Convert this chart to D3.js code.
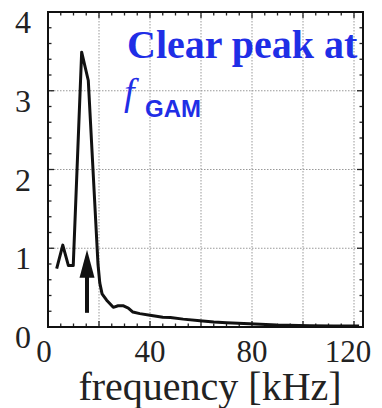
<!DOCTYPE html>
<html>
<head>
<meta charset="utf-8">
<script src="https://cdn.jsdelivr.net/npm/d3@7"></script>
<style>
  body { margin: 0; background: #fff; }
  .serif { font-family: 'Liberation Serif', 'Times New Roman', 'DejaVu Serif', serif; }
  .sans { font-family: 'Liberation Sans', Arial, 'DejaVu Sans', sans-serif; }
</style>
</head>
<body>
<div id="chart"></div>
<script>
// spectrum
let freq = [3.4, 5.8, 8, 9.9, 13.2, 15.8, 19.6, 20.3, 21.2, 23, 25.6, 27.5, 29.4, 31.5, 33.3, 36, 40, 45, 48, 53, 59.6, 65, 70, 79, 89.7, 102.7, 112, 122];
let amp  = [0.74, 1.04, 0.78, 0.78, 3.49, 3.13, 0.8, 0.56, 0.42, 0.34, 0.25, 0.27, 0.27, 0.24, 0.19, 0.17, 0.15, 0.125, 0.12, 0.1, 0.08, 0.065, 0.055, 0.04, 0.025, 0.017, 0.014, 0.012];

let xTicks = [0, 40, 80, 120];
let yTicks = [0, 1, 2, 3, 4];
let xGrid = [20, 40, 60, 80, 100, 120];
let yGrid = [1, 2, 3];

// arrow marking f_GAM: [freq, tail amp, tip amp]
let arrowAt = [15.3, 0.18, 0.98];

let w = 382, h = 408;
let pLeft = 48, pRight = 363, pTop = 12, pBottom = 327;

let svg = d3.select('#chart')
  .append('svg')
  .attr('width', w)
  .attr('height', h);

let xScale = d3.scaleLinear()
  .domain([0, 120])
  .range([pLeft, pLeft + 120 * 2.55]);

let yScale = d3.scaleLinear()
  .domain([0, 4])
  .range([pBottom, pTop]);

// grid
svg.selectAll('line.gx')
  .data(xGrid)
  .enter()
  .append('line')
  .attr('class', 'gx')
  .attr('x1', function(d) { return xScale(d); })
  .attr('x2', function(d) { return xScale(d); })
  .attr('y1', pTop)
  .attr('y2', pBottom)
  .attr('stroke', '#999')
  .attr('stroke-width', 1)
  .attr('stroke-dasharray', '1.5,1.5');

svg.selectAll('line.gy')
  .data(yGrid)
  .enter()
  .append('line')
  .attr('class', 'gy')
  .attr('x1', pLeft)
  .attr('x2', pRight)
  .attr('y1', function(d) { return yScale(d); })
  .attr('y2', function(d) { return yScale(d); })
  .attr('stroke', '#999')
  .attr('stroke-width', 1)
  .attr('stroke-dasharray', '1.5,1.5');

// inward ticks on all four sides
let xMinor = d3.range(0, 124, 5);
let yMinor = d3.range(0, 4.01, 0.2);

function tickLen(v, step) { return Math.abs(v / step - Math.round(v / step)) < 1e-6 ? 6 : 3.5; }

let ticks = svg.append('g')
  .attr('stroke', '#222')
  .attr('stroke-width', 1.3);

xMinor.forEach(function(d) {
  let l = tickLen(d, 20);
  ticks.append('line').attr('x1', xScale(d)).attr('x2', xScale(d)).attr('y1', pBottom).attr('y2', pBottom - l);
  ticks.append('line').attr('x1', xScale(d)).attr('x2', xScale(d)).attr('y1', pTop).attr('y2', pTop + l);
});
yMinor.forEach(function(d) {
  let l = tickLen(d, 1);
  ticks.append('line').attr('x1', pLeft).attr('x2', pLeft + l).attr('y1', yScale(d)).attr('y2', yScale(d));
  ticks.append('line').attr('x1', pRight).attr('x2', pRight - l).attr('y1', yScale(d)).attr('y2', yScale(d));
});

// frame
svg.append('rect')
  .attr('x', pLeft)
  .attr('y', pTop)
  .attr('width', pRight - pLeft)
  .attr('height', pBottom - pTop)
  .attr('fill', 'none')
  .attr('stroke', '#111')
  .attr('stroke-width', 2);

// curve
let line = d3.line()
  .x(function(d, i) { return xScale(freq[i]); })
  .y(function(d) { return yScale(d); });

svg.append('path')
  .datum(amp)
  .attr('d', line)
  .attr('fill', 'none')
  .attr('stroke', '#111')
  .attr('stroke-width', 3)
  .attr('stroke-linejoin', 'round');

// arrow
let ax = xScale(arrowAt[0]);
let tipY = yScale(arrowAt[2]);
let baseY = tipY + 28;
svg.append('line')
  .attr('x1', ax)
  .attr('x2', ax)
  .attr('y1', yScale(arrowAt[1]))
  .attr('y2', baseY - 1)
  .attr('stroke', '#111')
  .attr('stroke-width', 4);
svg.append('path')
  .attr('d', 'M' + ax + ',' + tipY + 'L' + (ax + 7.5) + ',' + baseY + 'L' + (ax - 7.5) + ',' + baseY + 'Z')
  .attr('fill', '#111');

// tick labels
svg.selectAll('text.xl')
  .data(xTicks)
  .enter()
  .append('text')
  .attr('class', 'xl serif')
  .text(function(d) { return d; })
  .attr('x', function(d) { return xScale(d) - (d === 0 ? 4 : d === 120 ? 6 : 0); })
  .attr('y', 362)
  .attr('font-size', '31px')
  .attr('text-anchor', 'middle')
  .attr('fill', '#222');

svg.selectAll('text.yl')
  .data(yTicks)
  .enter()
  .append('text')
  .attr('class', 'yl serif')
  .text(function(d) { return d; })
  .attr('x', 31)
  .attr('y', function(d) { return yScale(d) + 21; })
  .attr('font-size', '32px')
  .attr('text-anchor', 'end')
  .attr('fill', '#222');

svg.append('text')
  .attr('class', 'serif')
  .text('frequency [kHz]')
  .attr('x', 210)
  .attr('y', 400)
  .attr('font-size', '40px')
  .attr('text-anchor', 'middle')
  .attr('fill', '#222');

// annotation
svg.append('text')
  .attr('class', 'serif')
  .text('Clear peak at')
  .attr('x', 127)
  .attr('y', 58)
  .attr('font-weight', 'bold')
  .attr('font-size', '40px')
  .attr('fill', '#1f2ee6');

let fg = svg.append('text')
  .attr('x', 124)
  .attr('y', 105)
  .attr('fill', '#1f2ee6');
fg.append('tspan')
  .attr('class', 'serif')
  .text('f')
  .attr('font-style', 'italic')
  .attr('font-size', '38px');
fg.append('tspan')
  .attr('class', 'sans')
  .text('GAM')
  .attr('x', 145)
  .attr('y', 117)
  .attr('font-weight', 'bold')
  .attr('font-size', '24px');
</script>
</body>
</html>
